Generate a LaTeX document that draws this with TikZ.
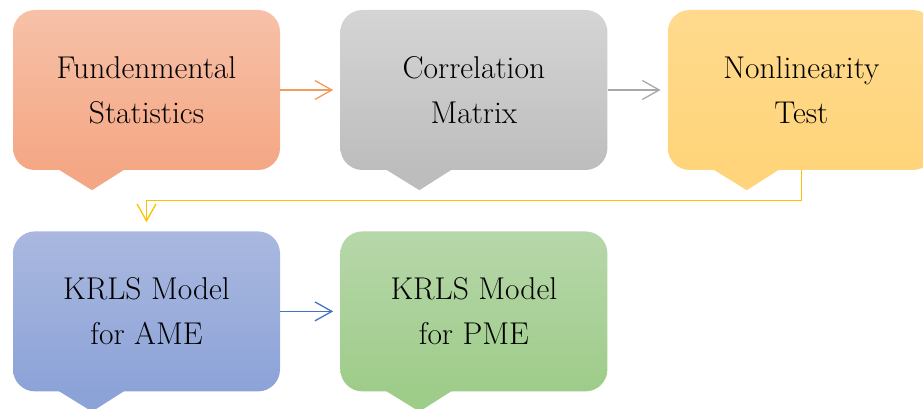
\documentclass[tikz,border=0pt]{standalone}
\usetikzlibrary{arrows.meta,positioning}

\definecolor{orTop}{HTML}{F7C1A8}
\definecolor{orBot}{HTML}{F4A784}
\definecolor{orLine}{HTML}{F39B5C}
\definecolor{grTop}{HTML}{D5D5D5}
\definecolor{grBot}{HTML}{BDBDBD}
\definecolor{grLine}{HTML}{A8A8A8}
\definecolor{yeTop}{HTML}{FFDA8E}
\definecolor{yeBot}{HTML}{FFD47A}
\definecolor{yeLine}{HTML}{FFC000}
\definecolor{blTop}{HTML}{AAB8DF}
\definecolor{blBot}{HTML}{8CA3D8}
\definecolor{blLine}{HTML}{4472C4}
\definecolor{gnTop}{HTML}{B7D7AA}
\definecolor{gnBot}{HTML}{9ECC89}

\begin{document}
\begin{tikzpicture}[x=1pt, y=1pt,
  box/.style={rounded corners=22pt, minimum width=267pt, minimum height=160pt,
    inner sep=0pt, align=center, font=\fontsize{31.5}{45}\selectfont},
  link/.style={line width=1.3pt, -{Straight Barb[length=17pt,width=19pt]}, shorten >=7pt}]
  \clip (0,0) rectangle (923,409);
  \node[box, top color=orTop, bottom color=orBot] (FS) at (146.5,319) {Fundenmental\\Statistics};
  \node[box, top color=grTop, bottom color=grBot, right=60pt of FS] (CM) {Correlation\\Matrix};
  \node[box, top color=yeTop, bottom color=yeBot, right=60pt of CM] (NT) {Nonlinearity\\Test};
  \node[box, top color=blTop, bottom color=blBot, below=61pt of FS] (AME) {KRLS Model\\for AME};
  \node[box, top color=gnTop, bottom color=gnBot, right=60pt of AME] (PME) {KRLS Model\\for PME};
  % callout tabs
  \foreach \n/\c in {FS/orBot, CM/grBot, NT/yeBot, AME/blBot, PME/gnBot}
    \fill[\c, shift={(\n.south)}] (-88.5,1) -- (-21.5,1) -- (-54.5,-20) -- cycle;
  \draw[link, orLine] (FS) -- (CM);
  \draw[link, grLine] (CM) -- (NT);
  \draw[link, yeLine, shorten >=9pt] (NT.south) -- ++(0,-30) -| (AME.north);
  \draw[link, blLine] (AME) -- (PME);
\end{tikzpicture}
\end{document}
